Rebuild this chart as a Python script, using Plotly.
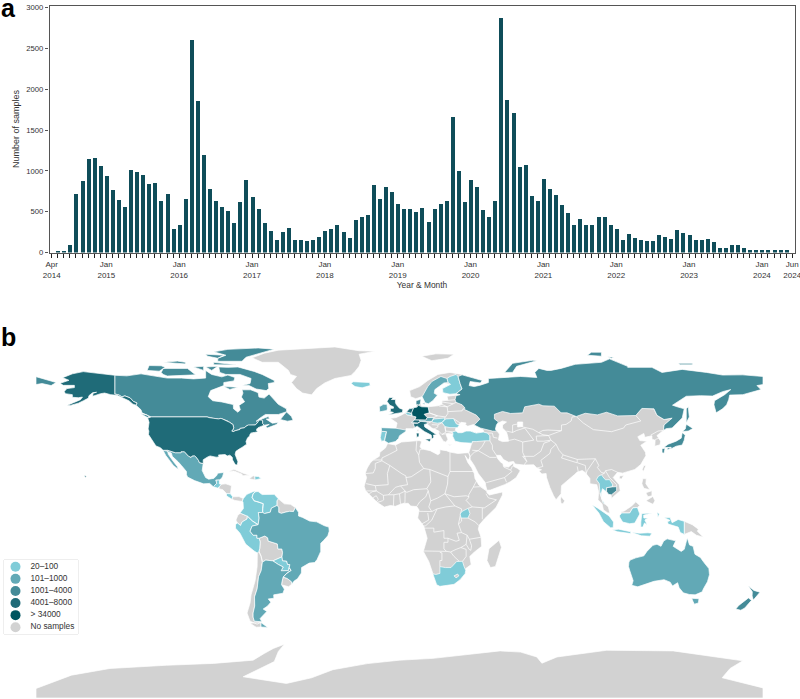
import plotly.graph_objects as go

W, H = 800, 699
FONT = "Liberation Sans, Arial, sans-serif"
INK = "#333333"

# ---- monthly sample counts, April 2014 to June 2024 ----
MONTHS = [f"{y}-{m:02d}" for y in range(2014, 2025) for m in range(1, 13)][3:126]
SAMPLES = [
    0, 15, 15, 90, 720, 880, 1145, 1160, 1062,
    935, 772, 645, 556, 1010, 990, 956, 838, 855, 638, 720, 286,
    343, 658, 2611, 1855, 1201, 785, 629, 556, 515, 364, 621, 895,
    678, 539, 360, 266, 163, 253, 306, 159, 151, 139, 159, 188,
    270, 286, 343, 257, 180, 396, 441, 466, 834, 658, 801, 740,
    597, 539, 531, 499, 552, 372, 539, 593, 638, 1667, 997, 617,
    895, 801, 527, 441, 629, 2873, 1868, 1708, 1046, 1079, 691, 638,
    899, 785, 703, 580, 486, 335, 409, 335, 335, 433, 437, 335,
    286, 163, 225, 184, 159, 147, 143, 221, 188, 168, 278, 237,
    221, 155, 163, 168, 131, 65, 65, 90, 98, 65, 37, 33,
    33, 33, 37, 29, 29, 0,
]
LABELLED_MONTHS = {
    "2014-04": "Apr<br>2014", "2015-01": "Jan<br>2015", "2016-01": "Jan<br>2016",
    "2017-01": "Jan<br>2017", "2018-01": "Jan<br>2018", "2019-01": "Jan<br>2019",
    "2020-01": "Jan<br>2020", "2021-01": "Jan<br>2021", "2022-01": "Jan<br>2022",
    "2023-01": "Jan<br>2023", "2024-01": "Jan<br>2024", "2024-06": "Jun<br>2024",
}
Y_TICKS = [0, 500, 1000, 1500, 2000, 2500, 3000]
BAR_COLOR = "#0f4d59"

# ---- legend classes ----
LEGEND_LABELS = ["20–100", "101–1000", "1001–4000", "4001–8000", "> 34000", "No samples"]
LEGEND_COLORS = ["#80ccd8", "#62a9b6", "#448b98", "#1f6b78", "#005560", "#d2d2d2"]

# ---- country outlines, (lon, lat) ----
usa_lower48 = [(-124.7,48.4),(-123,49),(-95.2,49),(-94.6,48.7),(-92,48.3),(-89.6,48),(-88.4,48.3),(-84.9,46.9),(-84.5,46.5),(-83.6,46.1),(-83.5,45.8),(-82.5,45.3),(-82.1,43.6),(-82.5,42.6),(-83.1,42.1),(-82.4,41.7),(-81.3,42.2),(-79,42.8),(-79,43.3),(-76.8,43.6),(-76.4,44.1),(-75.3,44.8),(-74.9,45),(-71.5,45),(-71.1,45.3),(-70.4,46),(-70,46.7),(-69.2,47.5),(-68.3,47.4),(-67.8,47.1),(-67.8,45.7),(-67,44.9),(-68.5,44.3),(-70,43.7),(-70.7,43),(-70.8,42.3),(-70,41.7),(-71.5,41.4),(-73.7,40.9),(-72,41),(-74,40.5),(-74.2,39.5),(-75.2,38.7),(-75.6,37.5),(-76,36.9),(-75.7,35.5),(-76.6,34.7),(-78,33.9),(-79.2,33.2),(-81,32),(-81.4,30.5),(-80.6,28.5),(-80,26.8),(-80.4,25.2),(-81.2,25.3),(-81.8,26.2),(-82.7,27.8),(-82.8,29),(-84,30.1),(-85.3,29.7),(-86.4,30.4),(-88,30.3),(-89.6,30.2),(-89.4,29.2),(-90.8,29.1),(-93.8,29.7),(-95,29.2),(-97.2,27.8),(-97.2,25.9),(-99.1,26.4),(-99.5,27.5),(-100.6,29),(-101.5,29.8),(-102.7,29.7),(-103.2,29),(-104.5,29.6),(-106.5,31.8),(-108.2,31.8),(-108.2,31.3),(-111,31.3),(-114.8,32.5),(-117.1,32.5),(-118.4,33.8),(-120.6,34.6),(-121.9,36.6),(-122.5,37.8),(-123.8,39.5),(-124.3,40.3),(-124.1,42),(-124.5,43),(-124,46.3)]
alaska = [(-141,69.6),(-141,60.3),(-139,59.9),(-137.5,58.9),(-136,59.4),(-133.4,58.4),(-131.7,56.6),(-130,55.9),(-130.5,54.8),(-132,55.3),(-134,57),(-136.6,58.2),(-139.9,59.7),(-143,60),(-146,60.8),(-148,60.5),(-151.9,59.2),(-151.8,60.7),(-150,61.2),(-152,60.9),(-153.8,59.5),(-154,58.3),(-156.5,57),(-159,55.8),(-163,54.7),(-164.8,54.6),(-161.8,55.9),(-158,57.5),(-157,58.8),(-159,58.5),(-162,58.7),(-162,60),(-165.5,60.5),(-166,61.6),(-164.7,63),(-161,63.5),(-161,64.6),(-166.5,64.6),(-168.1,65.6),(-164.5,66.6),(-163.7,67.1),(-166.8,68.4),(-162,70.3),(-156.6,71.4),(-152,70.8),(-145,70)]
hawaii = [(-156,20.2),(-155,19.7),(-155.7,19)]
canada_main = [(-141,69.6),(-135,69.3),(-128,70.3),(-125,69.8),(-115,68.2),(-108,68.2),(-102,67.8),(-96,68.2),(-96,72),(-93,70),(-88,68.8),(-85,69.7),(-81.5,68.5),(-82,66.8),(-87,66),(-87,64.5),(-93.5,62),(-94.7,59),(-92.5,57),(-88,56.4),(-82.3,55.1),(-82.2,53),(-80,51.3),(-78.8,52.5),(-79.5,54.7),(-76.7,56.5),(-78.3,58.8),(-77.5,60.8),(-78,62.4),(-73.7,62.4),(-70,61),(-69.6,58.8),(-67,58.3),(-64.6,60.3),(-62,57.5),(-60,55.2),(-56,53),(-55.8,51.6),(-60,50.2),(-66.4,50.2),(-69,48.5),(-71,46.8),(-65,49.2),(-64.3,48.1),(-66,47.9),(-64.8,47),(-63,45.9),(-60,46.2),(-61,45.2),(-65.5,43.5),(-66.2,44.3),(-64.5,45.3),(-67,44.9),(-67.8,45.7),(-67.8,47.1),(-68.3,47.4),(-69.2,47.5),(-70,46.7),(-70.4,46),(-71.1,45.3),(-71.5,45),(-74.9,45),(-75.3,44.8),(-76.4,44.1),(-76.8,43.6),(-79,43.3),(-79,42.8),(-81.3,42.2),(-82.4,41.7),(-83.1,42.1),(-82.5,42.6),(-82.1,43.6),(-82.5,45.3),(-83.5,45.8),(-83.6,46.1),(-84.5,46.5),(-84.9,46.9),(-88.4,48.3),(-89.6,48),(-92,48.3),(-94.6,48.7),(-95.2,49),(-123,49),(-125,50),(-127.5,51),(-128,52.5),(-130,54.3),(-130.5,54.8),(-130,55.9),(-131.7,56.6),(-133.4,58.4),(-136,59.4),(-137.5,58.9),(-139,59.9),(-141,60.3)]
newfoundland = [(-59,47.7),(-55.5,46.9),(-52.7,47.3),(-53.5,49.2),(-56,51.5),(-57.3,50)]
vancouver_is = [(-128.3,50.7),(-125,50),(-123.5,48.5),(-125,48.8)]
baffin = [(-80,73.7),(-72,71.5),(-68,70),(-62,67),(-62,66),(-65,65.5),(-64.7,63),(-66,62),(-71,62.8),(-74.5,64.5),(-78,64.5),(-74,65.5),(-73.5,68),(-79,70),(-86,70),(-89,71),(-89.5,73.7),(-85,73.5)]
victoria_is = [(-117,73),(-105,73),(-101,69.8),(-115,69.2),(-117,70),(-118,71)]
banks_is = [(-125,72),(-119,71.6),(-116,73.5),(-118,74.3),(-124,74.4)]
southampton_is = [(-87,64),(-80,63.7),(-84,62.6)]
ellesmere = [(-90,76.5),(-78,76.5),(-76,78.5),(-65,81.5),(-62,82.5),(-70,83.1),(-85,82.4),(-92,81.2),(-86,79.5),(-90,78)]
devon_is = [(-92,76),(-80,75),(-80,74.7),(-92,74.8)]
melville_is = [(-117,76),(-106,75.2),(-106,76),(-110,76.6)]
prince_of_wales_is = [(-102,73.7),(-97,74),(-97,72)]
somerset_is = [(-96,73.7),(-90,74),(-93,72)]
axel_heiberg = [(-96,80),(-87,79.5),(-90,78),(-95,79)]
mexico_main = [(-114.8,32.5),(-111,31.3),(-108.2,31.3),(-108.2,31.8),(-106.5,31.8),(-104.5,29.6),(-103.2,29),(-102.7,29.7),(-101.5,29.8),(-100.6,29),(-99.5,27.5),(-99.1,26.4),(-97.2,25.9),(-97.7,22.5),(-96,19),(-94.5,18.2),(-92,18.6),(-90.5,20),(-90,21.2),(-87,21.5),(-87.6,19.5),(-88.2,18.5),(-89.1,17.9),(-91,17.8),(-90.5,16.2),(-92.2,14.5),(-94,16.1),(-97,15.9),(-101.5,17.5),(-105,19.3),(-105.5,20.5),(-105.5,22),(-108,25),(-109.5,26.7),(-112.5,29.5),(-113,31.2),(-114.8,31.8)]
baja = [(-117.1,32.5),(-115.8,30),(-113.5,27),(-112,25),(-109.5,23),(-110,24.5),(-112,27),(-114.5,30.5),(-114.8,32)]
guatemala = [(-92.2,14.5),(-90.5,16.2),(-91,17.8),(-89.1,17.9),(-89.2,15.9),(-88.3,15.7),(-89.2,14.5),(-90.1,13.8)]
costa_rica = [(-85.7,11.1),(-83.7,11),(-82.6,9.5),(-83,8.3),(-85.6,9.9)]
dominican_rep = [(-71.7,19.7),(-69.9,19.5),(-68.4,18.6),(-71.5,17.8)]
brazil = [(-51.6,4.2),(-50,1.8),(-50,0),(-48,-0.7),(-44.5,-2.5),(-41,-2.9),(-37.2,-4.8),(-35,-5.5),(-34.8,-7.5),(-35.5,-9.8),(-37.5,-12),(-39,-13.5),(-39,-17.5),(-40.8,-21.5),(-42,-23),(-44.7,-23.3),(-48.5,-25.5),(-48.6,-28.2),(-50.5,-31),(-52.2,-32.2),(-53.4,-33.7),(-53.5,-32.5),(-55.6,-30.9),(-57.6,-30.2),(-55.8,-28.3),(-53.7,-26.9),(-54.6,-25.6),(-54.3,-24),(-55.4,-24),(-55.9,-22.3),(-57.9,-22.1),(-58.2,-20.2),(-57.9,-18),(-58.3,-16.3),(-60.2,-16.3),(-60.5,-13.8),(-65,-12.4),(-65.3,-10.8),(-66.7,-9.9),(-69.5,-11),(-70.6,-11),(-70.6,-9.5),(-72.5,-9.5),(-74,-7.5),(-73,-5),(-70,-4.3),(-69.5,-1),(-69.9,1.7),(-67.8,1.7),(-66.8,1.2),(-64,1.9),(-63.4,3.9),(-60.7,5.2),(-59.8,4.4),(-59.8,1.8),(-58.5,1.3),(-56.5,1.9),(-54.5,2.3),(-52.5,2.2)]
colombia = [(-77.3,8.7),(-75.6,10.7),(-72,12.3),(-71.3,12),(-72.5,11),(-73,9.2),(-72,7.5),(-70,7),(-67.5,6.1),(-67.8,3.8),(-67.8,1.7),(-69.9,1.7),(-69.5,-1),(-70,-4.3),(-72.9,-2.4),(-75.3,-0.1),(-77.7,0.8),(-79,1.5),(-77.3,3.7),(-77.5,7),(-77.9,7.2)]
venezuela = [(-71.3,12),(-70,12.1),(-68,10.6),(-64,10.5),(-62,10.7),(-60,8.5),(-60.7,7.5),(-60.7,5.2),(-63.4,3.9),(-64,1.9),(-66.8,1.2),(-67.8,1.7),(-67.8,3.8),(-67.5,6.1),(-70,7),(-72,7.5),(-73,9.2),(-72.5,11)]
peru = [(-75.3,-0.1),(-72.9,-2.4),(-70,-4.3),(-73,-5),(-74,-7.5),(-72.5,-9.5),(-70.6,-9.5),(-70.6,-11),(-69.5,-11),(-69,-12.8),(-69.2,-16),(-69.6,-17.5),(-70.4,-18.3),(-72,-17.3),(-76.2,-13.9),(-79,-8.5),(-81.2,-6),(-81.2,-4.3),(-80.3,-3.4),(-78.7,-4.7),(-78,-3),(-75.5,-1.5)]
paraguay = [(-58.2,-20.2),(-57.9,-22.1),(-55.9,-22.3),(-55.4,-24),(-54.3,-24),(-54.6,-25.6),(-55,-27),(-58.6,-27.1),(-57.6,-25.2),(-60,-24),(-62.7,-22.2)]
argentina = [(-66.2,-21.8),(-62.7,-22.2),(-60,-24),(-57.6,-25.2),(-58.6,-27.1),(-55,-27),(-54.6,-25.6),(-53.7,-26.9),(-55.8,-28.3),(-57.6,-30.2),(-58.2,-32.5),(-58.4,-34),(-57,-36.2),(-57.7,-38.2),(-62.3,-39),(-62.2,-40.7),(-65,-41),(-63.7,-42.6),(-65.3,-44.5),(-67.5,-46),(-65.7,-47.2),(-69,-50.7),(-68.2,-52.3),(-71.9,-52),(-72.5,-50),(-72.5,-48),(-71.7,-44.5),(-71.8,-40),(-70.5,-36),(-70,-33),(-69.8,-30),(-68.5,-27),(-68.3,-24.5),(-67.9,-22.8)]
argentina_tdf = [(-68.6,-52.7),(-68.6,-54.9),(-65.2,-55.1)]
germany = [(6,51),(7,53.5),(8.8,53.9),(8.8,55),(11,54),(14.2,53.9),(14.7,51),(12.2,50.3),(13.7,48.7),(13,47.5),(7.6,47.6),(8.2,49),(6.3,49.5)]
netherlands = [(3.5,51.4),(4.8,53),(7,53.4),(6,51),(6,50.8),(4,51.3)]
belgium = [(2.6,51.1),(4,51.3),(6,50.8),(6,49.6),(4,50)]
switzerland = [(6,46.2),(7.6,47.6),(9.5,47.5),(10.4,46.8),(9,45.9),(7,45.9)]
austria = [(9.5,47.5),(13,47.5),(13.7,48.7),(17,48.7),(16,46.8),(10.4,46.8)]
italy_main = [(6.8,45.9),(9,45.9),(10.4,46.8),(13.7,46.5),(13.7,45.6),(12.3,45.3),(12.5,44),(16,41.7),(18.4,40.2),(16.8,40),(17,39),(16,38),(15.7,40),(12.3,41.8),(10.4,43),(8.8,44.4),(7.5,43.8)]
sicily = [(12.5,38),(15.6,38.2),(15,36.7)]
sardinia = [(8.3,41),(9.7,41),(9.6,39.2),(8.5,39)]
spain = [(-9,43.7),(-1.8,43.4),(3.2,42.5),(3.2,41.9),(0,39.7),(-0.5,38.3),(-2.1,36.8),(-5.5,36),(-7.4,37.2),(-7,39.7),(-6.4,41.7),(-8.9,41.9)]
portugal = [(-8.9,41.9),(-6.4,41.7),(-7,39.7),(-7.4,37.2),(-9,37),(-9.5,38.8)]
great_britain = [(-5.7,50),(-1,50.7),(1.4,51.2),(1.7,52.7),(0,53.3),(-1.5,55),(-2,56),(-2,57.6),(-4,57.6),(-3,58.6),(-5,58.6),(-6.2,56.7),(-4.8,54.8),(-3,54),(-3,53.3),(-4.5,53.2),(-4.5,52),(-5.2,51.8),(-3,51.2)]
ireland = [(-6,53),(-6.3,52.2),(-9.8,51.5),(-10,54),(-8,55.2),(-6.2,55.2)]
iceland = [(-24,65.5),(-22,64),(-18.5,63.4),(-14.5,64.5),(-14.8,66),(-18,66.3),(-23,66.4)]
denmark = [(8.2,55),(8.2,57),(10.6,57.7),(10.3,55.5),(9.5,54.9)]
zealand = [(11,55.5),(12.5,56),(12.5,55.3)]
sweden = [(11.2,59),(12.7,56),(14.3,55.5),(16.5,57),(18.8,59.8),(17.2,60.7),(17.5,62.5),(22,65.8),(24,66),(23.5,68),(20.5,69),(16,66.5),(14,64),(12.5,61),(11.8,59.5)]
finland = [(21.5,61),(25,60.2),(28,60.5),(31,62.8),(30,65.5),(29,69),(28,70),(25,69),(23.5,68),(24,66),(25.3,65.1),(21.3,63)]
hungary = [(16,46.8),(17,48),(22,48.4),(22.7,48),(21,46.2),(18.8,45.9),(16.7,46.2)]
romania = [(21,46.2),(22.7,48),(26.7,48.2),(28.2,45.5),(29.7,45),(28.6,43.7),(25,43.7),(22.5,44.2)]
turkey = [(26.3,39.5),(26.5,40.6),(26.2,41.7),(28,42),(29,41.2),(31,41.2),(33,42),(35,42),(38,41),(41.5,41.5),(43.5,41),(44.7,39.7),(44.7,37.2),(42.5,37.2),(38,36.8),(36,36.8),(36,36),(32,36.1),(30.5,36.3),(27.5,37)]
russia_main = [(31,69.8),(33,69.3),(41,67),(40,65.8),(35,66.5),(34.5,64.5),(37,64),(40,64.7),(44,66),(44,68),(54,68.5),(60,69),(68,68.5),(67,71),(69,73),(73,72),(75,72),(80,73),(87,75),(100,76),(104,77.7),(113,74),(113,73.5),(125,73.5),(130,71),(140,72.5),(152,71),(160,69.7),(170,69.8),(180,69),(180,65),(177,64.5),(179,62.5),(170,60),(163.5,59.8),(163,57.5),(162,55),(160,53),(156.8,51),(155.7,55),(156,57),(161,60),(164,62.5),(160,61.5),(155,59.3),(149,59.5),(142,59.2),(135.2,54.8),(137.5,54),(141,53),(140,48.5),(135,43.5),(132,43.2),(130.7,42.3),(131,45),(135,48.4),(131,47.7),(127.5,49.8),(126,53),(120,53.2),(117,49.7),(113,49.7),(108,49.5),(102.5,51.3),(98,50),(92,50.8),(87.5,49.2),(83,51),(80,51),(76.7,54.3),(71,54.5),(69,55.3),(62,54),(61,51),(55,50.7),(51,51.7),(47,50.3),(47,49),(47,48),(49,46.5),(48,45),(47.5,43),(48,41.9),(46,42),(40,43.5),(37,45),(39,47.2),(39.8,47.9),(38,49.9),(34,52),(31.5,53),(32.5,53.3),(31,55),(28,56.2),(27.5,57.5),(28,59.5),(30,60),(28,60.5),(31,62.8),(30,65.5),(29,69)]
chukotka = [(-180,68.9),(-175,67.5),(-170,66),(-172.5,64.5),(-177,65.5),(-180,65)]
novaya_zemlya = [(52,71),(56,71),(58,74),(68,76.8),(66,77),(56,75.5)]
severnaya_zemlya = [(93,79.5),(100,79),(100,81),(95,81)]
bolshevik_is = [(103,78.8),(106,78.5),(105,78)]
new_siberian_is = [(138,75.5),(145,75.5),(145,74.8),(139,74.8)]
sakhalin = [(142,46),(143.5,49),(143,54),(142,53)]
honshu = [(131,34),(135,33.5),(137,34.5),(140,35.1),(141,37.5),(141.5,40),(140,41.2),(139.5,38.5),(137,37),(133,35.5)]
hokkaido = [(140,41.8),(143,42),(145.3,43.3),(142,45.4),(141.5,43)]
kyushu = [(130,33.3),(131.5,33.5),(131,31),(130,31.3)]
shikoku = [(132.5,33.8),(134.5,34),(134,33.3),(132.8,32.8)]
thailand = [(100,20.4),(98.5,19.7),(97.5,18),(98.9,16),(99.2,12),(100,9),(100.8,6.5),(101.8,5.8),(100.2,8.3),(99.9,11),(100.5,13.5),(102.5,12),(102.6,14),(105.4,14.4),(105.5,15.7),(104,18),(102,17.9),(100.6,19.5)]
cambodia = [(102.5,12.2),(102.6,14),(105.4,14.4),(107.5,14.5),(107.5,12.5),(105,10.5),(103.5,10.7)]
sumatra = [(95.3,5.6),(98,4),(103.8,0),(106,-3),(105.8,-5.8),(104.5,-5.8),(101,-2.8),(98.7,1.5)]
java = [(105.3,-6.8),(108.5,-6.5),(114.5,-7.8),(114.5,-8.7),(108,-7.8)]
kalimantan = [(109,0.3),(110,1.5),(114,1.5),(115.5,4),(117.8,4.2),(119,1),(116.5,-3.5),(114,-3.8),(110.5,-3),(109,-0.5)]
sulawesi = [(120,1.2),(125,1.5),(120.9,0.4),(121,-1),(123,-1),(121.5,-2),(122.7,-4.5),(121.3,-3.5),(120.5,-5.5),(119.5,-5.5),(119.5,-3),(119.8,-0.8)]
lesser_sundas = [(115,-8.2),(119,-8.5),(123,-8.3),(125,-8.5),(124,-10),(119.8,-9.8)]
halmahera = [(127.5,2),(128.7,1),(128,-0.8)]
indonesian_papua = [(131,-0.8),(134,-0.8),(135,-3.3),(138,-1.7),(141,-2.6),(141,-9.1),(139,-8.1),(138,-5.5),(133,-4),(132.7,-2.8),(134,-2.2)]
australia_main = [(114.2,-21.8),(117,-20.7),(121,-19.7),(122.5,-17.5),(125.5,-14.5),(127.5,-14),(129.5,-15),(130.8,-12.4),(132.5,-11.3),(136,-12),(136.8,-12.3),(135.5,-15),(139.5,-17.5),(141,-16.5),(141.7,-13),(142.5,-10.8),(143.6,-14.3),(145.4,-15),(146.3,-18.9),(149,-20.5),(150.8,-23),(153.2,-26),(153.5,-29),(152.5,-32.5),(150.5,-36),(149.9,-37.5),(146.4,-39),(143.5,-38.8),(140.5,-38),(138.5,-35.5),(137.7,-33),(135.2,-34.6),(134,-32.7),(131,-31.5),(126,-32.3),(124,-33),(120,-34),(118,-35),(115,-34.3),(115.7,-32),(114,-27),(113.4,-25),(113.6,-22.8)]
tasmania = [(144.7,-40.7),(148.3,-40.9),(148,-43),(146,-43.6),(145.3,-42.2)]
nz_north = [(172.7,-34.5),(175.5,-36.8),(178.5,-37.7),(177,-39.5),(175.2,-41.6),(174.6,-39.5),(174.7,-37.5)]
nz_south = [(172.8,-40.5),(174.3,-41.7),(172.7,-43.5),(171,-45.5),(169,-46.6),(166.5,-46),(168,-44.2),(171,-42)]
south_africa = [(16.5,-28.6),(18,-28.9),(20,-28.4),(20,-25),(22.7,-25.5),(25.5,-25.5),(28.3,-22.5),(31.2,-22.4),(32,-25),(32.8,-26.9),(32.5,-28.5),(30,-31.5),(27,-33.8),(20,-34.8),(18.4,-34),(17.2,-30)]
uganda = [(30.5,-1),(30,1),(31,2.3),(34,3.8),(34.9,1.2),(33.9,-1)]

# ---- countries and land without samples ----
eurasia = [(-9.5,38.8),(-9,43),(-1.8,43.4),(-1.2,46),(-4.6,48.3),(-1.6,48.7),(1.5,50.2),(3.5,51.4),(4.8,53),(8,53.6),(8.7,55.5),(8.2,57),(10.6,57.7),(10.3,56),(11,54),(14,54),(19,54.5),(21,55.2),(21,57),(24,57.2),(23.5,59.2),(28,59.5),(30,60),(25,60.2),(21.5,61),(21.3,63),(25.3,65.1),(22,65.8),(17.5,62.5),(17.2,60.7),(18.8,59.8),(16.5,57),(14.3,55.5),(12.7,56),(11.2,59),(8,58),(5.5,59),(5,62),(10,64),(14,67),(19,70),(25,71),(31,70),(33,68),(35,60),(60,60),(100,58),(130,56),(135,48),(131,43),(130.7,42.3),(127.5,39.8),(129.3,37),(129,35.2),(126.4,34.5),(126.6,37.5),(125,38),(125,39.7),(121.5,38.9),(121,40.8),(118,39.2),(119,37.3),(122.5,37),(119.5,35),(121.8,31.5),(122,29.8),(119.5,25.5),(116.5,23),(113,22),(110.5,21.2),(108,21.6),(105.8,19),(108.8,15.5),(109.3,12.5),(107,10.5),(105,8.7),(104.8,10.2),(103,11),(102,12.5),(100.8,13.5),(100,13.2),(99.3,11),(100.4,8),(101,6.7),(103.4,4.5),(104.2,1.4),(103,1.6),(101,3),(100.3,6),(98.3,8),(98.6,12),(97.7,15.5),(95.3,15.8),(94.3,16),(94.3,18.5),(92,21.5),(90.5,22.5),(88,21.7),(86.7,20.5),(82.5,16.7),(80.2,15),(80,11),(77.5,8),(76.3,10),(74.5,14),(72.8,19),(72.6,21),(70.5,20.8),(69,22.3),(70.3,22.9),(68,23.7),(66.5,25.3),(61.5,25.2),(57.2,25.7),(56.5,27),(54,26.6),(51.5,27.9),(50,30),(48,30),(48.5,28.5),(50.2,26.5),(51.2,26),(51.5,24.5),(54,24.2),(56.3,26.2),(56.5,24.5),(58.6,23.5),(59.8,22.4),(57.8,19),(55,17),(52,15.5),(45,12.8),(43.3,12.7),(42.7,15),(42.5,16.5),(39,21),(37,25),(35,28),(34.9,29.5),(34.3,31.3),(35.8,35.5),(36,36.8),(32,36.1),(30.5,36.3),(27.5,37),(26.3,39.3),(26.5,40.6),(24,40.7),(23,40.3),(24,38),(23,36.5),(21.7,37),(19.5,40.5),(19.4,42),(16,43.5),(13.7,45.5),(12.3,45.3),(12.5,44),(16,41.7),(18.4,40.2),(16.8,40),(17,39),(16,38),(15.7,40),(12.3,41.8),(10.4,43),(8.8,44.4),(6.5,43.2),(3.2,43.2),(3.2,41.9),(0,39.7),(-0.5,38.3),(-2.1,36.8),(-5.5,36),(-7,37.2),(-9,37)]
africa = [(-5.9,35.8),(-2,35.1),(1,36.6),(9.7,37.3),(11,36.9),(10.2,34.3),(11,33.2),(15.2,32.3),(19,30.3),(20,31),(20,32.8),(23.2,32.3),(25,31.6),(29,30.9),(32.2,31.2),(34.3,31.3),(34.9,29.5),(34.3,27.8),(33.6,28.2),(32.5,29.9),(33.8,26.5),(35.7,23.9),(37,21),(37.4,18.5),(39.3,15.3),(43.2,12.5),(43.3,11.5),(44.5,10.4),(51,11.9),(51,10.4),(47.8,4.2),(42,-1.5),(39.5,-4.5),(39,-6.5),(40.4,-10.5),(40.7,-15),(37,-17.9),(34.8,-20),(35.5,-24),(32.8,-26),(32.5,-28.5),(30,-31.5),(27,-33.8),(20,-34.8),(18.4,-34),(17,-29.5),(14.5,-22.5),(11.8,-17.5),(13.7,-11),(12,-5),(9,-1),(9.7,3),(8.5,4.7),(5.5,4.9),(4.3,6.3),(1,6),(-2,4.8),(-4.5,5.2),(-7.5,4.4),(-11,6.7),(-13.2,9),(-15,11),(-16.8,12.5),(-17.5,14.7),(-16.3,19),(-17,21),(-16,23.7),(-14.5,26.2),(-13,27.7),(-10,29.5),(-9.7,31.5),(-7,33.6)]
greenland = [(-73,78.2),(-68,76),(-60,76),(-55,72),(-54,70),(-51,69),(-53.5,66),(-51,63),(-48,60.8),(-43.5,59.9),(-41,63),(-37,65.8),(-32,68),(-24,69.5),(-22,71.5),(-20,74),(-19,77),(-20,80),(-12,81.5),(-20,81.7),(-32,83.6),(-45,82.8),(-60,82),(-67,80.5)]
antarctica = [(-180,-85.3),(-162.4,-78.7),(-143.4,-75.4),(-115.3,-73.8),(-92.2,-72.9),(-72.5,-71.3),(-67,-68),(-62.5,-65.5),(-57,-63.4),(-60,-67),(-62,-72),(-77.4,-79.5),(-56,-82.8),(-43.5,-80),(-33,-76),(-16,-73),(0,-71.3),(16.6,-70.4),(49.8,-66.7),(60,-67.3),(68,-69.7),(70.5,-72.8),(78,-69.7),(102.6,-66.4),(135.5,-66.7),(170,-71.6),(163.7,-75.4),(159.8,-80),(180,-85),(180,-90),(-180,-90)]
madagascar = [(49.3,-12),(50.5,-15.5),(47.5,-25),(45,-25.5),(43.3,-22),(44.3,-16.2)]
svalbard = [(11,79),(16,76.8),(24,78),(27,80),(18,80.2)]
central_america = [(-89.2,14.5),(-88.3,15.7),(-86,15.9),(-83.2,15),(-83.7,11),(-85.7,11.1),(-87.5,13),(-89.5,13.5)]
panama = [(-83,8.3),(-82.6,9.5),(-79.5,9.6),(-77.4,8.7),(-77.9,7.2),(-80.5,7.3),(-81.5,7.7)]
cuba = [(-85,21.9),(-82,23.1),(-77,21),(-74.2,20.2),(-77.7,19.9),(-78,20.7),(-82,22.3)]
haiti = [(-74.4,18.4),(-72.5,19.9),(-71.7,19.7),(-71.5,17.8)]
guianas = [(-60,8.5),(-57,6),(-54,5.8),(-51.6,4.2),(-52.5,2.2),(-54.5,2.3),(-56.5,1.9),(-58.5,1.3),(-59.8,1.8),(-59.8,4.4),(-60.7,5.2),(-60.7,7.5)]
ecuador = [(-78.8,1.4),(-77.7,0.8),(-75.3,-0.1),(-75.5,-1.5),(-78,-3),(-78.7,-4.7),(-80.3,-3.4),(-81,-2),(-80,0.5)]
bolivia = [(-69.5,-11),(-66.7,-9.9),(-65.3,-10.8),(-65,-12.4),(-60.5,-13.8),(-60.2,-16.3),(-58.3,-16.3),(-57.9,-18),(-58.2,-20.2),(-62.7,-22.2),(-66.2,-21.8),(-67.9,-22.8),(-68.5,-20),(-69.6,-17.5),(-69.2,-16),(-69,-12.8)]
chile = [(-70.4,-18.3),(-69.6,-17.5),(-68.5,-20),(-67.9,-22.8),(-68.3,-24.5),(-68.5,-27),(-69.8,-30),(-70,-33),(-70.5,-36),(-71.8,-40),(-71.7,-44.5),(-72.5,-48),(-72.5,-50),(-71.9,-52),(-68.2,-52.3),(-70.5,-53.5),(-74,-52),(-75.5,-48),(-74,-43),(-73.5,-39),(-71.5,-32),(-70.5,-25)]
chile_tdf = [(-68.6,-52.7),(-68.6,-54.9),(-71,-55),(-74,-53)]
uruguay = [(-57.6,-30.2),(-55.6,-30.9),(-53.5,-32.5),(-53.4,-33.7),(-54.9,-35),(-58.4,-34),(-58.2,-32.5)]
lesotho = [(27,-29.6),(28.8,-28.7),(29.4,-29.6),(28,-30.6)]
sri_lanka = [(80,9.7),(81.8,7.5),(81,6),(80,6.2),(79.7,8)]
taiwan = [(121,25),(122,25),(120.8,22),(120.2,23)]
hainan = [(109,19.8),(111,20),(110,18.3),(108.8,18.6)]
luzon = [(120.5,18.5),(122.2,18.4),(122,16),(124,13),(121,13.7),(120,16)]
mindanao = [(122,7.5),(125.5,9.7),(126.5,7.5),(125.5,5.8),(124,6.5)]
visayas = [(122,11.5),(125,12.5),(125,10),(123,9.5)]
malaysian_borneo = [(109.6,2),(111.3,2.5),(115,5),(117,7),(119,5.2),(117.8,4.2),(115.5,4),(114,1.5),(110,1.5)]
papua_new_guinea = [(141,-2.6),(145,-4.3),(148,-6.5),(147.5,-7.5),(150.5,-10.5),(147,-9.5),(144.5,-7.7),(141,-9.1)]
corsica = [(8.6,42.4),(9.5,43),(9.4,41.5)]
crete = [(23.6,35.5),(26.2,35.2),(24.8,34.9)]

# ---- enclosed seas ----
black_sea = [(28,41.6),(27.7,43),(28.6,44.5),(30.5,46.3),(33,46),(32.5,45.3),(33.8,44.4),(36.6,45.2),(38,44.4),(41.5,42.5),(41.5,41.5),(38,41),(35,42),(33,42),(31,41.2),(29,41.2)]
caspian_sea = [(47,45),(51,47),(53,46.5),(51,45),(51,43.5),(53,41.5),(53.7,39),(54,37),(51,36.8),(49,37.6),(49.5,40.5),(47.5,43)]
aral_sea = [(58.5,46.5),(61,46.5),(61,44.3),(58.5,44)]

# ---- internal land borders between countries without samples ----
AFRICA_BORDERS = [
    [(-2,35.1),(-1.2,32.5),(-5,30.5),(-8.7,28.7),(-8.7,27.3)], [(-13,27.7),(-8.7,27.7)],
    [(-8.7,27.3),(-12,26),(-12,23.5),(-13,21.3),(-17,21)],
    [(-8.7,27.3),(-4.8,25),(1.2,20.9),(3.2,19.8),(3.2,19),(5.8,19.4),(12,23.5),(9.9,26.5),(9.5,30.2),(8.2,32.5),(8.5,37)],
    [(9.5,30.2),(10.2,33),(11.5,33)], [(25,31.6),(25,22),(24,19.5),(15,23),(12,23.5)], [(25,22),(36.8,22)],
    [(-4.8,25),(-6,21),(-5.6,15.5),(-12,15),(-16.5,16)], [(3.2,19),(4,15.5),(0.5,14.9),(-2,14.2),(-5.5,10.5)],
    [(-16.8,12.4),(-11.5,12.4),(-12,15)], [(-15,11),(-13.5,12),(-11.5,12.4),(-8,10.2),(-7.8,8),(-8.5,7.5),(-11,6.7)],
    [(-13.2,9),(-11.5,10),(-10.5,8.3),(-11.5,6.9)], [(-3,5),(-2.8,10.5),(-5.5,10.5),(-8,10.2)],
    [(0,11),(0.5,6)], [(1.7,6.2),(2.7,6.4),(2.8,12.3)], [(-2.8,10.5),(0,11),(2.8,12.3),(0.5,14.9)],
    [(2.8,12.3),(3.6,11.7),(7,13),(13.5,13.5),(15.5,16.8),(15,23)], [(8.5,4.7),(10,7),(13,9.5),(14.2,12.5),(13.5,13.5)],
    [(24,19.5),(23.8,15.8),(22.5,11),(18.9,8.9),(15.5,7.5),(14.2,12.5)], [(22.5,11),(27,9.5),(33,10),(34.5,9.5)],
    [(36.5,14.3),(34.3,10.5),(34.2,9),(33,7.7),(36,4.5),(41,4),(42,4),(48,8),(44,9),(42.8,11)],
    [(36.5,14.3),(38.5,18)], [(36.5,14.3),(40,14.5),(43,12.5)], [(41,4),(41,-1.6)], [(39.2,-4.7),(37.6,-3),(33.9,-1)], [(34,3.8),(36,4.5)],
    [(15.5,7.5),(14.5,4.5),(16,2.2),(18.6,3.5),(23,4.5),(27.4,5),(30.8,3.5)], [(27.4,5),(24,9),(22.5,11)],
    [(9.7,2.3),(13,2.2),(16,2.2)], [(14,1.5),(14.5,-2),(11.1,-3.9)], [(18.6,3.5),(16,-2),(13,-4.8),(12,-5)],
    [(12,-6),(17,-6),(17,-8),(22,-7.2),(22,-11),(24,-11),(24,-13),(22,-13),(22,-16.3),(23.3,-17.5)],
    [(24,-11),(28,-12.5),(29.6,-12),(28.5,-8.5),(30.7,-8.2)], [(30.8,3.5),(30,0),(29.2,-4),(30.7,-8.2)],
    [(30.5,-1),(30.8,-2.5),(29.2,-4)], [(30.7,-8.2),(33.5,-9.5),(34.6,-11.5),(40.4,-10.5)],
    [(33.5,-9.5),(33,-14),(34.5,-16.5),(35.3,-17),(35.7,-14.7),(34.6,-11.5)], [(11.8,-17.3),(23.3,-17.5)],
    [(20,-18),(21,-18.2),(21,-22),(20,-22),(20,-25)], [(23.3,-17.5),(25.3,-17.8),(28,-16.5),(30.4,-15.6),(33,-14)],
    [(30.4,-15.6),(33,-16.5),(33,-20),(31.2,-22.4)], [(25.3,-17.8),(27,-20),(29.4,-22.2)],
]
EUROPE_BORDERS = [
    [(2.6,51.1),(4,50),(6,49.5),(8.2,49),(7.6,47.6),(6,46.2),(7,45.9),(7.5,43.8)],
    [(14.2,53.9),(14.7,51),(19,49.5),(22.8,49),(24,50.8),(23.6,54),(19.5,54.4)],
    [(23.6,54),(26.5,55.5),(28,56.2)], [(31.5,53),(31,52),(24,51.6)], [(22.2,48.4),(22.8,49)],
    [(26.7,48.2),(29,46.5),(30,46)], [(21,55.2),(23.6,54)], [(21,56.4),(26.5,55.5)], [(24,57.2),(27.5,57.5)],
    [(12.2,50.3),(14.7,51),(18.8,49.5),(17,48.7),(13.7,48.7)], [(13.7,45.6),(16,46.8)], [(16,45.2),(19,45),(19,44),(17,43),(19.4,42),(20.5,41),(21,40.3),(26,41.3),(26.5,40.6)],
    [(22.5,44.2),(23,41.5),(21,40.3)], [(22.5,44.2),(22.8,42),(26.2,41.7)], [(19,45),(21,46.2)],
]
ASIA_BORDERS = [
    [(41.5,41.5),(43.5,41),(46,41),(46.5,38.9),(48.5,38.5)], [(44.7,39.7),(44.7,37.2),(46,35),(46,33),(48,30)],
    [(42.5,37.2),(41,34.5),(39,32.3),(36,32.5)], [(39,32.3),(37,31.5),(35,29.5)], [(48,29),(46.5,29),(44.7,29),(39,32.3)],
    [(43,16.5),(46.5,17.5),(52,19),(53,16.7)], [(52,19),(55.7,22),(55,22.7),(51.6,24.2)], [(56,24.8),(55,22.7)],
    [(61,36.6),(61,31.5),(63,27),(61.6,25.2)], [(53.9,37.3),(57,38),(61,36.6),(64.5,37.3),(66.5,37.5),(62,43.5),(58,42.3),(56,41.3),(53,42)],
    [(56,41.3),(56,45),(58.5,45.5),(61.2,44),(66,42.9),(69,41.2),(71,42.3),(73.5,42.5),(80.2,42.2)],
    [(69,41.2),(71,40.2),(73.8,39.8),(70,39.5),(67.7,39.5),(68,37),(71.5,37),(75,37.5),(73.8,39.8)], [(80.2,42.2),(76,40.4),(73.8,39.8)],
    [(61,29.5),(66.5,29.5),(70,32),(71.5,36),(74.5,37)], [(61,29.5),(63,27)], [(68,23.7),(71,24.5),(70,27.5),(74.5,31),(75,33),(77.5,35.5)],
    [(80.2,42.2),(80.2,45),(82.5,45.3),(85,47),(85.5,49),(87.5,49.2)], [(87.5,49.2),(91,46),(96,42.7),(105,41.7),(111,43.5),(112,45),(119.5,47),(117,49.7)],
    [(75,37.5),(77.5,35.5),(79,32.5),(81,30.2),(88,28),(92,28),(97,28.3)], [(81,30.2),(80.2,28.7),(88,26.3),(88,28)],
    [(88.2,26.3),(92,25),(92.5,21)], [(88,24.5),(88.5,22)], [(97,28.3),(94,24),(93,22.5),(92.3,20.7)],
    [(97,28.3),(98.7,25),(98,24),(100,21.5),(101.5,21.2),(102,22.4),(105,23),(108,21.6)], [(100,20.4),(101.5,21.2)],
    [(102,22.4),(104,19),(107.5,15.5),(107.5,14.5)], [(124.4,40),(128,42),(130.7,42.3)], [(126.6,37.8),(128.5,38.5)],
    [(130.7,42.3),(131,45),(135,48.4),(131,47.7),(127.5,49.8),(126,53),(120,53.2),(117,49.7)],
]

# ---- rings per legend class ----
TIER_20_100 = [guatemala, costa_rica, dominican_rep, colombia, venezuela, peru, paraguay, portugal, iceland, finland, hungary, romania, turkey, belgium, thailand, sumatra, java, kalimantan, sulawesi, lesser_sundas, halmahera, indonesian_papua, south_africa, uganda]
TIER_101_1000 = [mexico_main, baja, brazil, argentina, argentina_tdf, spain, ireland, sweden, austria, australia_main, tasmania]
TIER_1001_4000 = [canada_main, newfoundland, vancouver_is, baffin, victoria_is, banks_is, southampton_is, ellesmere, devon_is, melville_is, prince_of_wales_is, somerset_is, axel_heiberg, russia_main, chukotka, novaya_zemlya, severnaya_zemlya, bolshevik_is, new_siberian_is, sakhalin, honshu, hokkaido, kyushu, shikoku, cambodia, nz_north, nz_south, denmark, zealand]
TIER_4001_8000 = [usa_lower48, alaska, hawaii, great_britain, netherlands, switzerland, italy_main, sicily, sardinia]
TIER_OVER_34000 = [germany]
NO_SAMPLES = [eurasia, africa, greenland, antarctica, madagascar, svalbard, central_america, panama, cuba, haiti, guianas, ecuador, bolivia, chile, chile_tdf, uruguay, sri_lanka, taiwan, hainan, luzon, mindanao, visayas, malaysian_borneo, papua_new_guinea, corsica, crete]
INNER_SEAS = [black_sea, caspian_sea, aral_sea]


def ring_xy(rings, close=True):
    """Join rings into one pair of lon/lat arrays with gaps between them."""
    lon, lat = [], []
    for ring in rings:
        pts = list(ring) + ([ring[0]] if close else [])
        lon += [p[0] for p in pts] + [None]
        lat += [p[1] for p in pts] + [None]
    return lon, lat


def px_x(x):
    return x / W


def px_y(y):
    return 1 - y / H


fig = go.Figure()

# monthly bars
fig.add_trace(go.Bar(x=MONTHS, y=SAMPLES, width=0.66, marker=dict(color=BAR_COLOR, line_width=0),
                     xaxis="x", yaxis="y", showlegend=False, name="Samples"))


def add_land(rings, color, name):
    lon, lat = ring_xy(rings)
    fig.add_trace(go.Scatter(x=lon, y=lat, mode="lines", fill="toself", fillcolor=color,
                             line=dict(color="white", width=0.7), xaxis="x2", yaxis="y2",
                             showlegend=False, name=name, hoverinfo="name"))


# world map: land without samples first, then seas, borders and sampled countries
add_land(NO_SAMPLES, LEGEND_COLORS[5], LEGEND_LABELS[5])
add_land(INNER_SEAS, "white", "Inland sea")
border_lon, border_lat = ring_xy(AFRICA_BORDERS + EUROPE_BORDERS + ASIA_BORDERS, close=False)
fig.add_trace(go.Scatter(x=border_lon, y=border_lat, mode="lines", line=dict(color="white", width=0.7),
                         xaxis="x2", yaxis="y2", showlegend=False, hoverinfo="skip"))
for rings, color, label in zip(
    [TIER_20_100, TIER_101_1000, TIER_1001_4000, TIER_4001_8000, TIER_OVER_34000],
    LEGEND_COLORS, LEGEND_LABELS,
):
    add_land(rings, color, label)
add_land([lesotho], LEGEND_COLORS[5], LEGEND_LABELS[5])

# legend swatches and labels
rows = list(range(len(LEGEND_LABELS)))
fig.add_trace(go.Scatter(x=[11.5] * 6, y=rows, mode="markers",
                         marker=dict(size=10, color=LEGEND_COLORS, line_width=0),
                         xaxis="x3", yaxis="y3", showlegend=False, hoverinfo="skip"))
fig.add_trace(go.Scatter(x=[26.5] * 6, y=rows, mode="text", text=LEGEND_LABELS, textposition="middle right",
                         textfont=dict(family=FONT, size=8.3, color=INK),
                         xaxis="x3", yaxis="y3", showlegend=False, hoverinfo="skip"))

tick_text = [LABELLED_MONTHS.get(m, "") for m in MONTHS]
hidden = dict(visible=False, fixedrange=True)
fig.update_layout(
    template="none",
    width=W, height=H, margin=dict(l=0, r=0, t=0, b=0),
    paper_bgcolor="white", plot_bgcolor="white", bargap=0, showlegend=False,
    font=dict(family=FONT, size=8, color=INK),
    xaxis=dict(domain=[px_x(49.5), px_x(794.5)], type="category", categoryorder="array", categoryarray=MONTHS,
               range=[-0.36, 122.37], tickmode="array", tickvals=MONTHS, ticktext=tick_text, tickangle=0,
               ticks="outside", ticklen=4, tickwidth=1, tickcolor="#222222", showgrid=False,
               showline=True, linecolor="#555555", linewidth=1.2, mirror=True, zeroline=False, automargin=False,
               tickfont=dict(size=8, color=INK),
               title=dict(text="Year & Month", font=dict(size=8.4, color=INK), standoff=0)),
    yaxis=dict(domain=[px_y(252.5), px_y(5.7)], range=[0, 3024], tickmode="array", tickvals=Y_TICKS,
               ticks="outside", ticklen=3.5, tickwidth=1, tickcolor="#555555", showgrid=False,
               showline=True, linecolor="#555555", linewidth=1.2, mirror=True, zeroline=False, automargin=False,
               tickfont=dict(size=7.7, color=INK),
               title=dict(text="Number of samples", font=dict(size=9, color=INK), standoff=5)),
    xaxis2=dict(domain=[px_x(36), px_x(763)], range=[-180, 180], anchor="y2", **hidden),
    yaxis2=dict(domain=[px_y(698), px_y(334)], range=[-90, 90], anchor="x2", **hidden),
    xaxis3=dict(domain=[px_x(4), px_x(78)], range=[0, 74], anchor="y3", **hidden),
    yaxis3=dict(domain=[px_y(634), px_y(560)], range=[5.56, -0.56], anchor="x3", **hidden),
    shapes=[dict(type="rect", xref="paper", yref="paper", x0=px_x(4), x1=px_x(78), y0=px_y(634), y1=px_y(560),
                 line=dict(color="#dddddd", width=1), fillcolor="white", layer="below")],
    annotations=[
        dict(text="<b>a</b>", xref="paper", yref="paper", x=0, y=1, xanchor="left", yanchor="top", yshift=8, xshift=-1,
             showarrow=False, font=dict(family=FONT, size=25, color="black")),
        dict(text="<b>b</b>", xref="paper", yref="paper", x=0, y=px_y(321), xanchor="left", yanchor="top", xshift=-1,
             showarrow=False, font=dict(family=FONT, size=25, color="black")),
    ],
)

fig.write_html("out.html")
